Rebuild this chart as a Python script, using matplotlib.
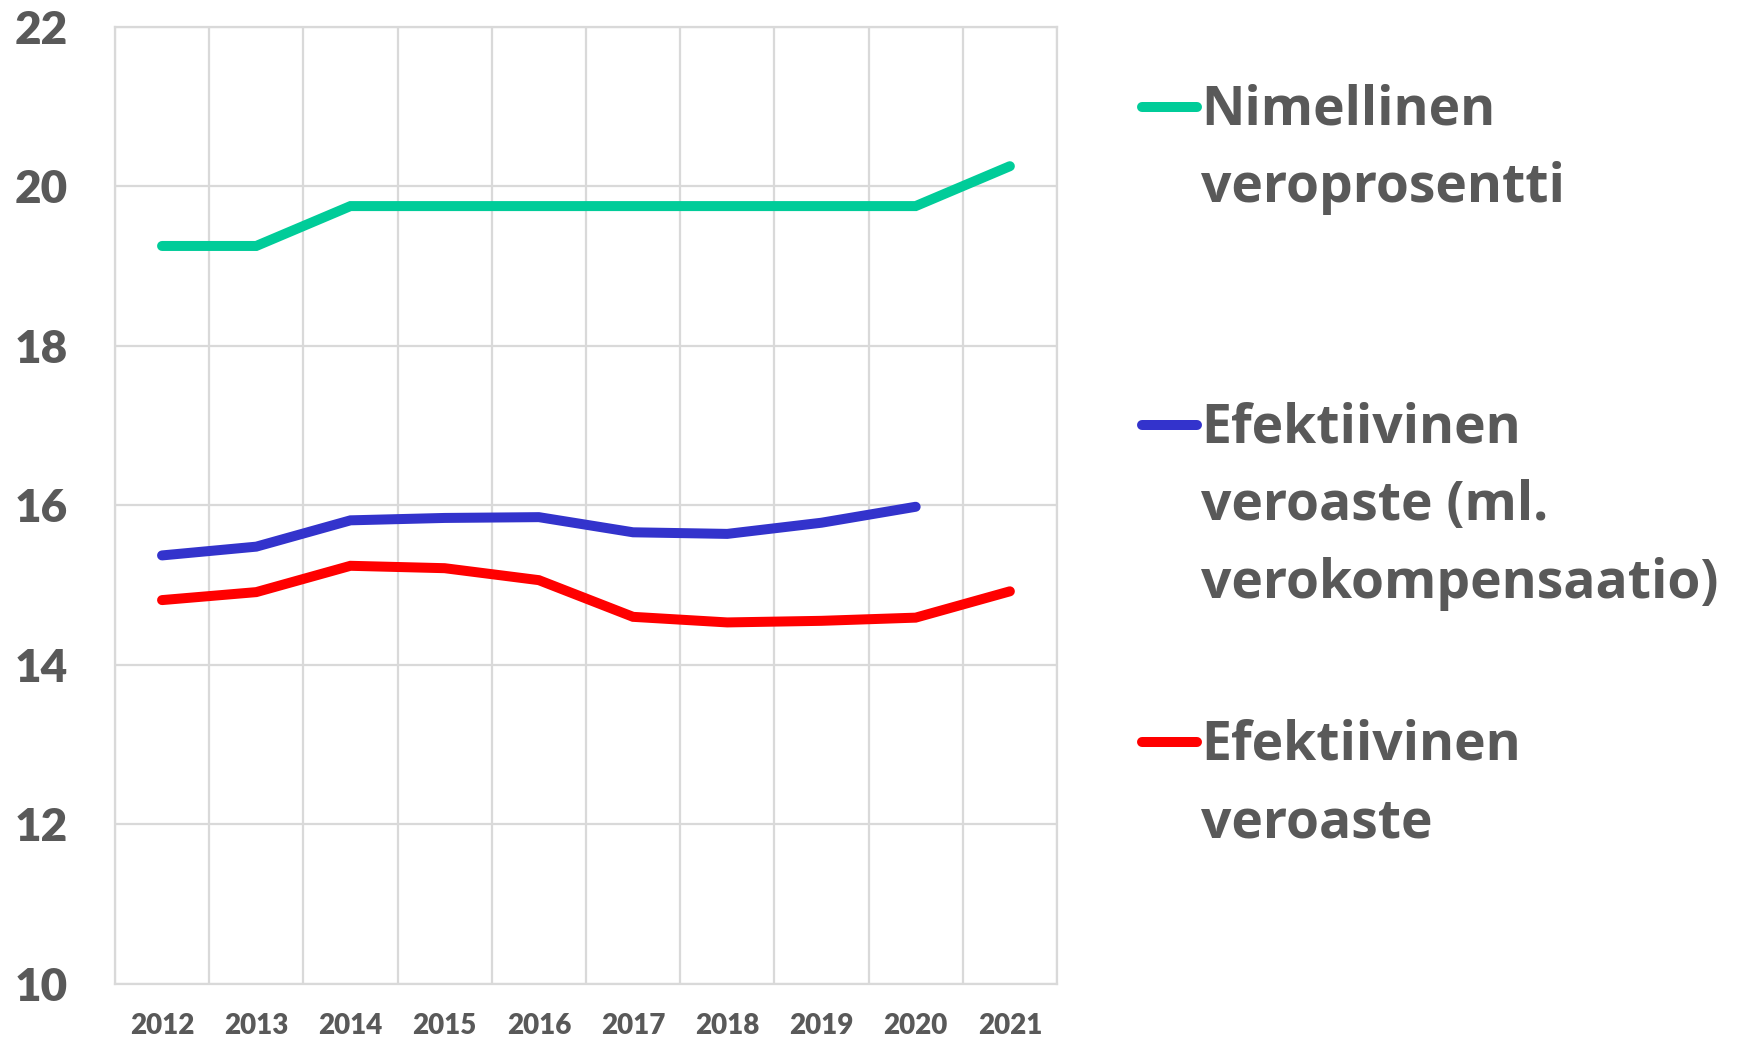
import matplotlib.pyplot as plt
from matplotlib.lines import Line2D

# values
years = ["2012", "2013", "2014", "2015", "2016", "2017", "2018", "2019", "2020", "2021"]
nimellinen = [19.25, 19.25, 19.75, 19.75, 19.75, 19.75, 19.75, 19.75, 19.75, 20.25]
efektiivinen_ml = [15.37, 15.48, 15.81, 15.84, 15.85, 15.66, 15.64, 15.78, 15.98]
efektiivinen = [14.81, 14.91, 15.24, 15.21, 15.06, 14.60, 14.53, 14.55, 14.59, 14.92]

series = [
    (nimellinen, "#00CC99", ["Nimellinen", "veroprosentti"]),
    (efektiivinen_ml, "#3333CC", ["Efektiivinen", "veroaste (ml.", "verokompensaatio)"]),
    (efektiivinen, "#FF0000", ["Efektiivinen", "veroaste"]),
]

text_color = "#595959"
grid_color = "#D9D9D9"

fig = plt.figure(figsize=(17.39, 10.40), dpi=100)
ax = fig.add_axes([0.0661, 0.0541, 0.6078 - 0.0661, 0.9744 - 0.0541])

for values, color, _ in series:
    ax.plot(range(len(values)), values, color=color, linewidth=7.2,
            solid_capstyle="round", solid_joinstyle="miter", zorder=3)

ax.set_xlim(-0.5, len(years) - 0.5)
ax.set_ylim(10, 22)
ax.set_yticks(range(10, 23, 2))
ax.set_xticks(range(len(years)))
ax.set_xticklabels(years)
ax.set_xticks([i - 0.5 for i in range(len(years) + 1)], minor=True)

ax.grid(False)
ax.grid(True, which="minor", axis="x", color=grid_color, linewidth=1.6)
ax.grid(True, which="major", axis="y", color=grid_color, linewidth=1.6)
ax.set_axisbelow(True)
for sp in ax.spines.values():
    sp.set_color(grid_color)
    sp.set_linewidth(1.6)

ax.tick_params(axis="both", which="both", length=0)
ax.tick_params(axis="y", pad=34)
ax.tick_params(axis="x", pad=21)
for lbl in ax.get_yticklabels():
    lbl.set_fontfamily("Lato")
    lbl.set_fontweight("heavy")
    lbl.set_fontsize(33)
    lbl.set_color(text_color)
for lbl in ax.get_xticklabels():
    lbl.set_fontfamily("Lato")
    lbl.set_fontweight("heavy")
    lbl.set_fontsize(20)
    lbl.set_color(text_color)

# legend drawn by hand so the handle sits on the first text line
W, H = 1739, 1040
handle_y = [106.5, 424.7, 742.0]
line_step = 77.6
for (values, color, lines), hy in zip(series, handle_y):
    fig.add_artist(Line2D([1142 / W, 1197 / W], [1 - hy / H, 1 - hy / H],
                          color=color, linewidth=7.2, solid_capstyle="round"))
    for i, txt in enumerate(lines):
        fig.text(1201 / W, 1 - (hy + 18 + i * line_step) / H, txt,
                 fontfamily="Open Sans", fontweight="bold", fontsize=38.5,
                 color=text_color, va="baseline", ha="left")

fig.savefig("out.png", dpi=100)
